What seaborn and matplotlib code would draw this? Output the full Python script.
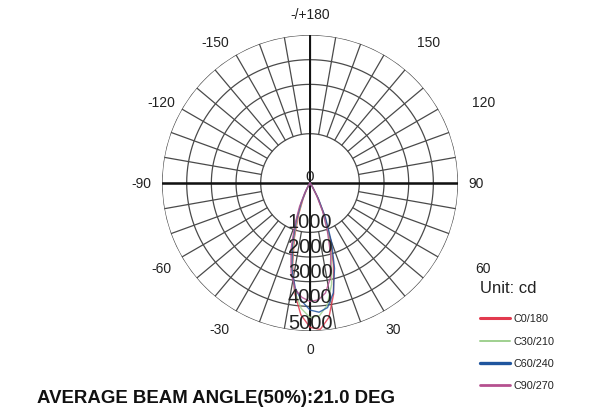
import numpy as np
import pandas as pd
import matplotlib
matplotlib.use("Agg")
import matplotlib.pyplot as plt
import seaborn as sns

# -----------------------------
# Data
# -----------------------------
angles_deg = [-36, -32, -28, -24, -20, -16, -12, -8, -4, 0, 4, 8, 12, 16, 20, 24, 28, 32, 36]
c0_180 = [0, 70, 260, 680, 1350, 2300, 3400, 4500, 5350, 5850, 5950, 5500, 4600, 3450, 2350, 1450, 680, 200, 0]
c30_210 = [0, 90, 330, 800, 1500, 2450, 3500, 4450, 5100, 5450, 5400, 5000, 4200, 3150, 2200, 1350, 620, 180, 0]
c60_240 = [0, 110, 390, 900, 1650, 2600, 3550, 4300, 4800, 5150, 5250, 5100, 4550, 3600, 2550, 1550, 720, 200, 0]
c90_270 = [0, 130, 460, 1050, 1800, 2800, 3700, 4350, 4650, 4800, 4750, 4500, 3950, 3050, 2050, 1250, 560, 170, 0]

series_names = ["C0/180", "C30/210", "C60/240", "C90/270"]
series_colors = ["#e23a4e", "#9fd08f", "#1f559e", "#b5508f"]

ring_values = [2000, 3000, 4000, 5000, 6000]
scale_labels = ["1000", "2000", "3000", "4000", "5000"]
scale_label_r = [1550, 2580, 3600, 4620, 5650]

angle_labels = ["-/+180", "150", "-150", "120", "-120", "90", "-90", "60", "-60", "30", "-30", "0"]
angle_label_pos = [(180, 6840), (140, 7450), (-146, 6880), (115, 7770), (-118.5, 6870),
                   (90, 6720), (-90, 6840), (63.8, 7800), (-60.3, 6950), (29.6, 6800),
                   (-31.9, 6960), (0, 6720)]

title_text = "AVERAGE BEAM ANGLE(50%):21.0 DEG"

# -----------------------------
# Long-form table for seaborn
# -----------------------------
rows = []
for name, vals in zip(series_names, [c0_180, c30_210, c60_240, c90_270]):
    for a, v in zip(angles_deg, vals):
        rows.append({"theta": np.deg2rad(a), "cd": v, "series": name})
df = pd.DataFrame(rows)

sns.set_style("white")
plt.rcParams["font.family"] = ["Liberation Sans", "DejaVu Sans"]

fig = plt.figure(figsize=(6.01, 4.14), dpi=100)
ax = fig.add_axes([0.2696, 0.198, 0.4925, 0.715], projection="polar")
ax.set_theta_zero_location("S")
ax.set_theta_direction(1)
ax.set_ylim(0, 6000)
ax.grid(False)
ax.set_xticks([])
ax.set_yticks([])
ax.spines["polar"].set_visible(False)
ax.patch.set_alpha(0)

grid_col = "#4a4a4a"
full = np.linspace(0, 2 * np.pi, 721)
for r in ring_values:
    ax.plot(full, np.full_like(full, r), color=grid_col, lw=0.9, zorder=1)
for a in range(0, 360, 10):
    t = np.deg2rad(a)
    ax.plot([t, t], [ring_values[0], ring_values[-1]], color=grid_col, lw=0.9, zorder=1)

# main cross
for a in (90, -90):
    t = np.deg2rad(a)
    ax.plot([t, t], [0, 6000], color="#111111", lw=1.8, zorder=2)
for a in (0, 180):
    t = np.deg2rad(a)
    ax.plot([t, t], [0, 6000], color="#111111", lw=1.4, zorder=2)

# light distribution curves
sns.lineplot(data=df, x="theta", y="cd", hue="series", palette=series_colors,
             hue_order=series_names, sort=False, lw=1.0, alpha=0.85,
             legend=False, ax=ax, zorder=3)
ax.set_xlabel("")
ax.set_ylabel("")

# scale labels
for txt, r in zip(scale_labels, scale_label_r):
    ax.text(0, r, txt, ha="center", va="center", fontsize=14.5, color="#222222", zorder=4)
ax.text(0, 0, "0", ha="center", va="bottom", fontsize=11, color="#222222", zorder=4)

# angle labels
for txt, (a, r) in zip(angle_labels, angle_label_pos):
    ax.text(np.deg2rad(a), r, txt, ha="center", va="center", fontsize=10,
            color="#222222", clip_on=False)

# legend (drawn by hand like the source sheet)
W, H = 601, 414
fig.text(480 / W, 1 - 289 / H, "Unit: cd", ha="left", va="center", fontsize=12, color="#222222")
leg_y = [319, 342, 364, 386]
leg_lw = [2.2, 1.4, 2.4, 2.0]
for name, col, y, lw in zip(series_names, series_colors, leg_y, leg_lw):
    fig.add_artist(plt.Line2D([480 / W, 510 / W], [1 - y / H, 1 - y / H], color=col, lw=lw))
    fig.text(513 / W, 1 - y / H, name, ha="left", va="center", fontsize=7.8, color="#222222")

fig.text(37 / W, 1 - 399 / H, title_text, ha="left", va="center", fontsize=13.4,
         fontweight="bold", color="#111111")

fig.savefig("out.png", dpi=100)
